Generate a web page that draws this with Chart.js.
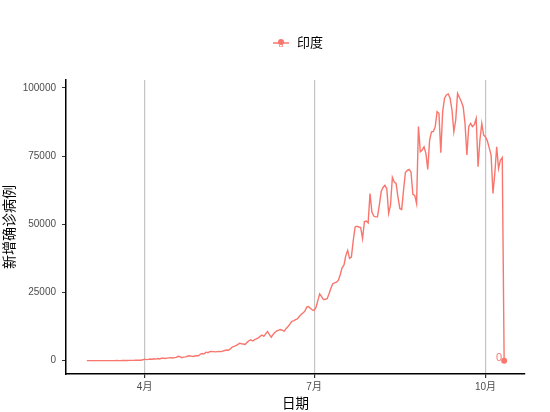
<!DOCTYPE html>
<html lang="zh">
<head>
<meta charset="UTF-8" />
<title>印度新增确诊病例</title>
<script src="https://cdn.jsdelivr.net/npm/chart.js@4.4.0/dist/chart.umd.min.js"></script>
<style>
  html, body { margin: 0; padding: 0; background: #fff; }
</style>
</head>
<body>
<canvas id="myChart" width="550" height="412"></canvas>
<script>
// 数据：2020-03-01 起每日新增确诊
const startDate = "2020-03-01";
const seriesName = "印度";
const marCases = [0, 0, 2, 22, 1, 2, 3, 5, 4, 9, 1, 12, 8, 4, 11, 9, 26, 14, 20, 50, 79, 72, 76, 105, 84, 87, 145, 142, 160, 148, 308];
const aprCases = [550, 380, 480, 600, 520, 680, 560, 750, 600, 870, 920, 800, 900, 1000, 1050, 950, 1100, 1200, 1600, 1500, 1050, 1300, 1400, 1600, 1800, 1650, 1500, 1700, 1850, 1800];
const mayCases = [2400, 2600, 2500, 3100, 2900, 3300, 3400, 3300, 3200, 3300, 3400, 3300, 3500, 3700, 3900, 3800, 4300, 5000, 5200, 5500, 5900, 6400, 6200, 6100, 5900, 6700, 7300, 7600, 7200, 7700, 8000];
const junCases = [8300, 8900, 9400, 8900, 9800, 10700, 9500, 8600, 9600, 10400, 10900, 11200, 11400, 11100, 10800, 11800, 12500, 13400, 14400, 14600, 15000, 15300, 16200, 16900, 17500, 18100, 19600, 19800, 19200, 18600];
const julCases = [18400, 19500, 22000, 24500, 23500, 22400, 22500, 22700, 24500, 26500, 28200, 28500, 28800, 29400, 31500, 34000, 35000, 38500, 40400, 37500, 38000, 44000, 49000, 49300, 49000, 48800, 44700, 51000, 51200, 50500, 61300];
const augCases = [54500, 53000, 52700, 52700, 57000, 62000, 63500, 64300, 63000, 54000, 57000, 67200, 65500, 65000, 60000, 55800, 55400, 62500, 69000, 69800, 70100, 69200, 61000, 60600, 57600, 85800, 76600, 77200, 78400, 76000, 70100];
const sepCases = [80900, 83900, 84000, 85800, 91300, 90700, 76200, 91300, 96200, 97400, 97800, 96200, 91900, 83900, 88200, 98000, 96500, 95000, 93100, 87000, 75400, 85800, 87000, 85800, 86500, 88800, 71100, 80900, 87000, 82700];
const octCases = [82000, 80500, 78000, 75400, 61300, 68600, 78400, 70500, 73500, 74500, 0];

const newCases = [].concat(marCases, aprCases, mayCases, junCases, julCases, augCases, sepCases, octCases);

const tickDates = ["2020-04-01", "2020-07-01", "2020-10-01"];
const tickLabels = ["4月", "7月", "10月"];
const yTicks = [0, 25000, 50000, 75000, 100000];

const lineColor = "#F8766D";
const fontFamily = "'Liberation Sans', 'Noto Sans CJK SC', sans-serif";

function dayOffset(s) {
  return Math.round((Date.parse(s) - Date.parse(startDate)) / 86400000);
}
const tickOffsets = tickDates.map(dayOffset);

const points = newCases.map((v, i) => ({ x: i, y: v }));
const lastIdx = newCases.length - 1;
const maxV = Math.max(...newCases);
const minV = Math.min(...newCases);

// 图例和最后一个点的数字标签
const ggExtras = {
  id: "ggExtras",
  afterDraw(chart) {
    const ctx = chart.ctx;
    ctx.save();
    // legend
    const lx = 281, ly = 43;
    ctx.strokeStyle = lineColor;
    ctx.lineWidth = 1.5;
    ctx.beginPath();
    ctx.moveTo(lx - 8, ly);
    ctx.lineTo(lx + 8, ly);
    ctx.stroke();
    ctx.fillStyle = lineColor;
    ctx.beginPath();
    ctx.arc(lx, ly - 1, 3, 0, Math.PI * 2);
    ctx.fill();
    ctx.font = "8px " + fontFamily;
    ctx.textAlign = "center";
    ctx.textBaseline = "middle";
    ctx.fillText("a", lx, ly + 2);
    ctx.fillStyle = "#000";
    ctx.font = "13px " + fontFamily;
    ctx.textAlign = "left";
    ctx.fillText(seriesName, 297, ly);

    // last value label
    const meta = chart.getDatasetMeta(0);
    const pt = meta.data[lastIdx];
    ctx.fillStyle = lineColor;
    ctx.font = "11px " + fontFamily;
    ctx.textAlign = "right";
    ctx.textBaseline = "middle";
    ctx.fillText(String(newCases[lastIdx]), pt.x - 2, pt.y - 3);
    ctx.restore();
  }
};

const ctx = document.getElementById("myChart").getContext("2d");
const myChart = new Chart(ctx, {
  type: "line",
  data: {
    datasets: [{
      label: seriesName,
      data: points,
      borderColor: lineColor,
      backgroundColor: lineColor,
      borderWidth: 1.4,
      tension: 0,
      pointRadius: c => (c.dataIndex === lastIdx ? 3 : 0),
      pointBorderWidth: 0,
      pointBackgroundColor: lineColor
    }]
  },
  options: {
    responsive: false,
    animation: false,
    layout: { padding: { top: 80, right: 25, left: 0, bottom: 0 } },
    plugins: {
      legend: { display: false },
      tooltip: { enabled: false }
    },
    scales: {
      x: {
        type: "linear",
        min: -0.05 * lastIdx,
        max: lastIdx * 1.05,
        afterBuildTicks: s => { s.ticks = tickOffsets.map(v => ({ value: v })); },
        afterFit: s => { s.height = 38; },
        ticks: {
          color: "#4D4D4D",
          font: { size: 10, family: fontFamily },
          padding: 3,
          maxRotation: 0,
          callback: v => tickLabels[tickOffsets.indexOf(v)]
        },
        grid: { color: "#C4C4C4", lineWidth: 1.2, tickColor: "#333", tickLength: 4 },
        border: { display: true, color: "#000", width: 1.5 },
        title: {
          display: true, text: "日期", color: "#000",
          font: { size: 13.5, family: fontFamily }, padding: { top: 0, bottom: 0 }
        }
      },
      y: {
        min: minV - 0.05 * (maxV - minV),
        max: maxV + 0.05 * (maxV - minV),
        afterBuildTicks: s => { s.ticks = yTicks.map(v => ({ value: v })); },
        afterFit: s => { s.width = 66; },
        ticks: {
          color: "#4D4D4D",
          font: { size: 10, family: fontFamily },
          padding: 6,
          callback: v => String(v)
        },
        grid: { drawOnChartArea: false, tickColor: "#333", tickLength: 4 },
        border: { display: true, color: "#000", width: 1.5 },
        title: {
          display: true, text: "新增确诊病例", color: "#000",
          font: { size: 14, family: fontFamily }, padding: { top: 2, bottom: 0 }
        }
      }
    }
  },
  plugins: [ggExtras]
});
</script>
</body>
</html>
